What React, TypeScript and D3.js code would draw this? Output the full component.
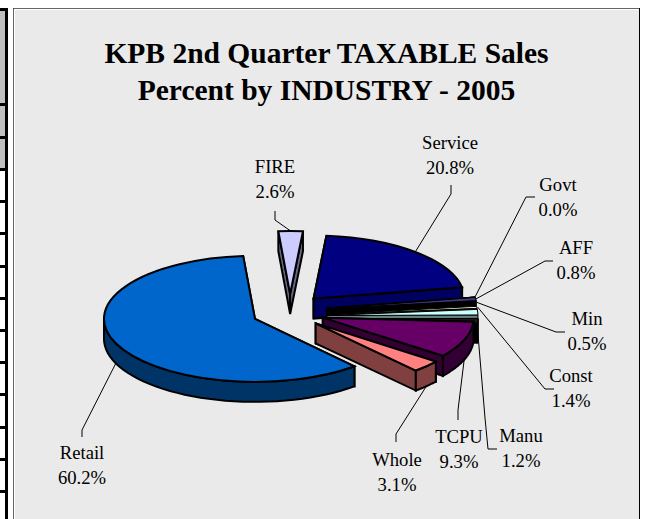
import React from 'react';
import * as d3 from 'd3';

const TITLE_LINES = ['KPB 2nd Quarter TAXABLE Sales', 'Percent by INDUSTRY - 2005'];
const INDUSTRIES = ['Retail', 'FIRE', 'Service', 'Govt', 'AFF', 'Min', 'Const', 'Manu', 'TCPU', 'Whole'];
const PERCENTS = [60.2, 2.6, 20.8, 0.0, 0.8, 0.5, 1.4, 1.2, 9.3, 3.1];

const FILLS = ['#0066CC', '#CCCCFF', '#000080', '#9999FF', '#3D3A80', '#FFFFCC', '#CCFFFF', '#1A1A1A', '#660066', '#FF8080'];
const SIDES = ['#003366', '#666680', '#000060', '#4D4D80', '#000000', '#000000', '#668080', '#000000', '#330033', '#804040'];

// painter's order, back of the pie first
const DRAW_ORDER = [1, 2, 3, 4, 5, 6, 7, 8, 9, 0];

const CX = 290, CY = 311.5;
const RX = 151, RY = 63, DEPTH = 20;
const START_DEG = 138.8;
const TILT = 0.5; // vertical share of the explode distance
const explodeOf = (i: number) => (i === 0 ? 38 : PERCENTS[i] < 2 ? 37 : 35);
// the thin slivers sit a little lower than the plain geometry gives
const NUDGES: Record<string, number> = { Min: 5, Const: 5, Manu: 7 };
const nudgeOf = (i: number) => NUDGES[INDUSTRIES[i]] ?? 0;

// label centre + elbow of the leader, by industry
const LABELS: Record<string, { x: number; y: number; elbow: [number, number][] }> = {
  Retail: { x: 82, y: 453, elbow: [[82, 430], [82, 437]] },
  FIRE: { x: 275, y: 167, elbow: [[275, 220], [275, 211]] },
  Service: { x: 450, y: 143, elbow: [[451, 194], [451, 185]] },
  Govt: { x: 558, y: 185, elbow: [[526, 197], [535, 197]] },
  AFF: { x: 576, y: 248, elbow: [[545, 261], [553, 261]] },
  Min: { x: 587, y: 319, elbow: [[556, 332], [565, 332]] },
  Const: { x: 571, y: 376, elbow: [[545, 389], [554, 389]] },
  Manu: { x: 521, y: 436, elbow: [[485, 418], [488, 449], [497, 449]] },
  TCPU: { x: 459, y: 437, elbow: [[458, 410], [458, 420]] },
  Whole: { x: 397, y: 460, elbow: [[396, 434], [396, 442]] },
};

const HEADER_LINES = [8, 103, 136, 168];
const ROW_LINES = [200, 232, 265, 297, 329, 361, 393, 426, 458, 490];

const App = () => {
  // shares are kept as printed and add to 99.7, so the sweep is cut to match
  const total = d3.sum(PERCENTS);
  const pie = d3.pie<number>()
    .sort(null)
    .startAngle((START_DEG * Math.PI) / 180)
    .endAngle((START_DEG * Math.PI) / 180 + (2 * Math.PI * total) / 100);
  const slices = pie(PERCENTS);

  const arc = d3.arc<d3.PieArcDatum<number>>().innerRadius(0).outerRadius(RX);
  const line = d3.line();

  const midOf = (i: number) => (slices[i].startAngle + slices[i].endAngle) / 2;
  const baseCenter = (i: number): [number, number] => {
    const d = explodeOf(i);
    return [CX + d * Math.sin(midOf(i)), CY - d * Math.cos(midOf(i)) * TILT];
  };
  const centerOf = (i: number): [number, number] => {
    const [x, y] = baseCenter(i);
    return [x, y + nudgeOf(i)];
  };
  const rim = (c: [number, number], a: number, drop = 0): [number, number] => [
    c[0] + RX * Math.sin(a),
    c[1] - RY * Math.cos(a) + drop,
  ];

  const outerWalls = (i: number) => {
    const { startAngle: a0, endAngle: a1 } = slices[i];
    const c = centerOf(i);
    const paths: string[] = [];
    // the part of the rim facing the viewer lies between 90 and 270 degrees
    [[Math.PI / 2, (3 * Math.PI) / 2], [(5 * Math.PI) / 2, (7 * Math.PI) / 2]].forEach(([lo, hi]) => {
      const from = Math.max(a0, lo), to = Math.min(a1, hi);
      if (to <= from) return;
      const steps = d3.range(0, 41).map(s => from + ((to - from) * s) / 40);
      const top = steps.map(a => rim(c, a));
      const bottom = steps.slice().reverse().map(a => rim(c, a, DEPTH));
      paths.push(line([...top, ...bottom])! + 'Z');
    });
    return paths;
  };

  const cutWall = (c: [number, number], a: number) =>
    line([c, rim(c, a), rim(c, a, DEPTH), [c[0], c[1] + DEPTH]])! + 'Z';

  const leaderStart = (i: number): [number, number] =>
    rim(baseCenter(i), midOf(i), Math.cos(midOf(i)) < 0 ? DEPTH : 0);

  return (
    <svg
      width={645}
      height={519}
      style={{ position: 'fixed', left: 0, top: 0, background: '#fff', fontFamily: '"Liberation Serif", serif' }}
    >
      {/* bit of the sheet table left of the chart */}
      <rect x={0} y={8} width={5} height={162} fill="#C0C0C0" />
      <rect x={5} y={8} width={3} height={511} fill="#000" />
      {[...HEADER_LINES, ...ROW_LINES].map(y => (
        <rect key={y} x={0} y={y} width={6} height={3} fill="#000" />
      ))}

      <rect x={13.5} y={8.5} width={626} height={520} fill="#EAEAEA" stroke="#000" strokeWidth={1} />
      <path d="M13.5,519V8.5H639" fill="none" stroke="#666" strokeWidth={1} />
      <path d="M14.5,519V9.5H639" fill="none" stroke="#fff" strokeWidth={1} />

      {TITLE_LINES.map((t, i) => (
        <text key={t} x={326.5} y={63 + i * 37} textAnchor="middle" fontSize={29.5} fontWeight="bold" fill="#000">
          {t}
        </text>
      ))}

      {INDUSTRIES.map((name, i) => {
        const l = LABELS[name];
        return (
          <path
            key={name}
            d={line([leaderStart(i), ...l.elbow])!}
            fill="none"
            stroke="#000"
            strokeWidth={1}
          />
        );
      })}

      {DRAW_ORDER.map(i => {
        const c = centerOf(i);
        const s = slices[i];
        return (
          <g key={INDUSTRIES[i]} stroke="#000" strokeWidth={PERCENTS[i] < 2 ? 1 : 2} strokeLinejoin="miter">
            <path d={cutWall(c, s.startAngle)} fill={SIDES[i]} />
            <path d={cutWall(c, s.endAngle)} fill={SIDES[i]} />
            {outerWalls(i).map((d, k) => (
              <path key={k} d={d} fill={SIDES[i]} />
            ))}
            <path
              d={arc(s)!}
              transform={`translate(${c[0]},${c[1]}) scale(1,${RY / RX})`}
              fill={FILLS[i]}
              vectorEffect="non-scaling-stroke"
            />
          </g>
        );
      })}

      {INDUSTRIES.map((name, i) => {
        const l = LABELS[name];
        return (
          <text key={name} textAnchor="middle" fontSize={18.67} fill="#000">
            <tspan x={l.x} y={l.y + 6}>{name}</tspan>
            <tspan x={l.x} y={l.y + 31}>{PERCENTS[i].toFixed(1)}%</tspan>
          </text>
        );
      })}
    </svg>
  );
};

export default App;
